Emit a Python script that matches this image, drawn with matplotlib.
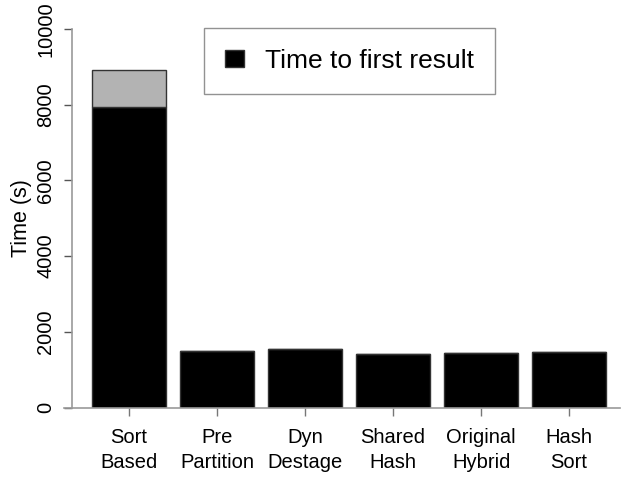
import numpy as np
import matplotlib.pyplot as plt
from matplotlib.patches import Patch

plt.rcParams['font.family'] = ['Liberation Sans', 'DejaVu Sans']

categories = ["Sort\nBased", "Pre\nPartition", "Dyn\nDestage", "Shared\nHash", "Original\nHybrid", "Hash\nSort"]
first_result = [7940, 1480, 1535, 1410, 1430, 1465]
total_time = [8910, 1480, 1535, 1410, 1430, 1465]
yticks = [0, 2000, 4000, 6000, 8000, 10000]

x = np.arange(len(categories))
rest = np.array(total_time) - np.array(first_result)

fig = plt.figure(figsize=(6.4, 4.8), dpi=100)
ax = fig.add_axes([0.1, 0.151, 0.869, 0.789])

ax.bar(x, first_result, width=0.84, color='black', edgecolor='#333333', linewidth=1)
ax.bar(x, rest, bottom=first_result, width=0.84, color='#b3b3b3', edgecolor='#333333', linewidth=1)

ax.set_xlim(-0.74, 5.58)
ax.set_ylim(0, 10000)

for s in ['top', 'right']:
    ax.spines[s].set_visible(False)
ax.spines['left'].set_position(('data', -0.648))
ax.spines['left'].set_bounds(0, 10000)
ax.spines['left'].set_color('#999999')
ax.spines['bottom'].set_color('#999999')
ax.spines['left'].set_linewidth(1.2)
ax.spines['bottom'].set_linewidth(1.2)

ax.set_yticks(yticks)
ax.set_yticklabels([str(v) for v in yticks], rotation=90, va='center', fontsize=14.5)
ax.set_xticks(x)
ax.set_xticklabels(categories, fontsize=14.5, linespacing=1.4)
ax.tick_params(axis='y', length=6, width=1, color='#555555', pad=6)
ax.tick_params(axis='x', length=5.5, width=1, color='#777777', pad=9)

ax.set_ylabel("Time (s)", fontsize=15.5, labelpad=3)

handle = Patch(facecolor='black', edgecolor='#333333')
leg = ax.legend(handles=[handle], labels=["Time to first result"], loc='upper left',
                bbox_to_anchor=(0.252, 1.003), fontsize=19, frameon=True, fancybox=False,
                edgecolor='#777777', borderpad=0.8, handlelength=0.7, handleheight=0.62,
                handletextpad=0.8, borderaxespad=0)
leg.get_frame().set_linewidth(1)

fig.savefig("out.png", dpi=100)
